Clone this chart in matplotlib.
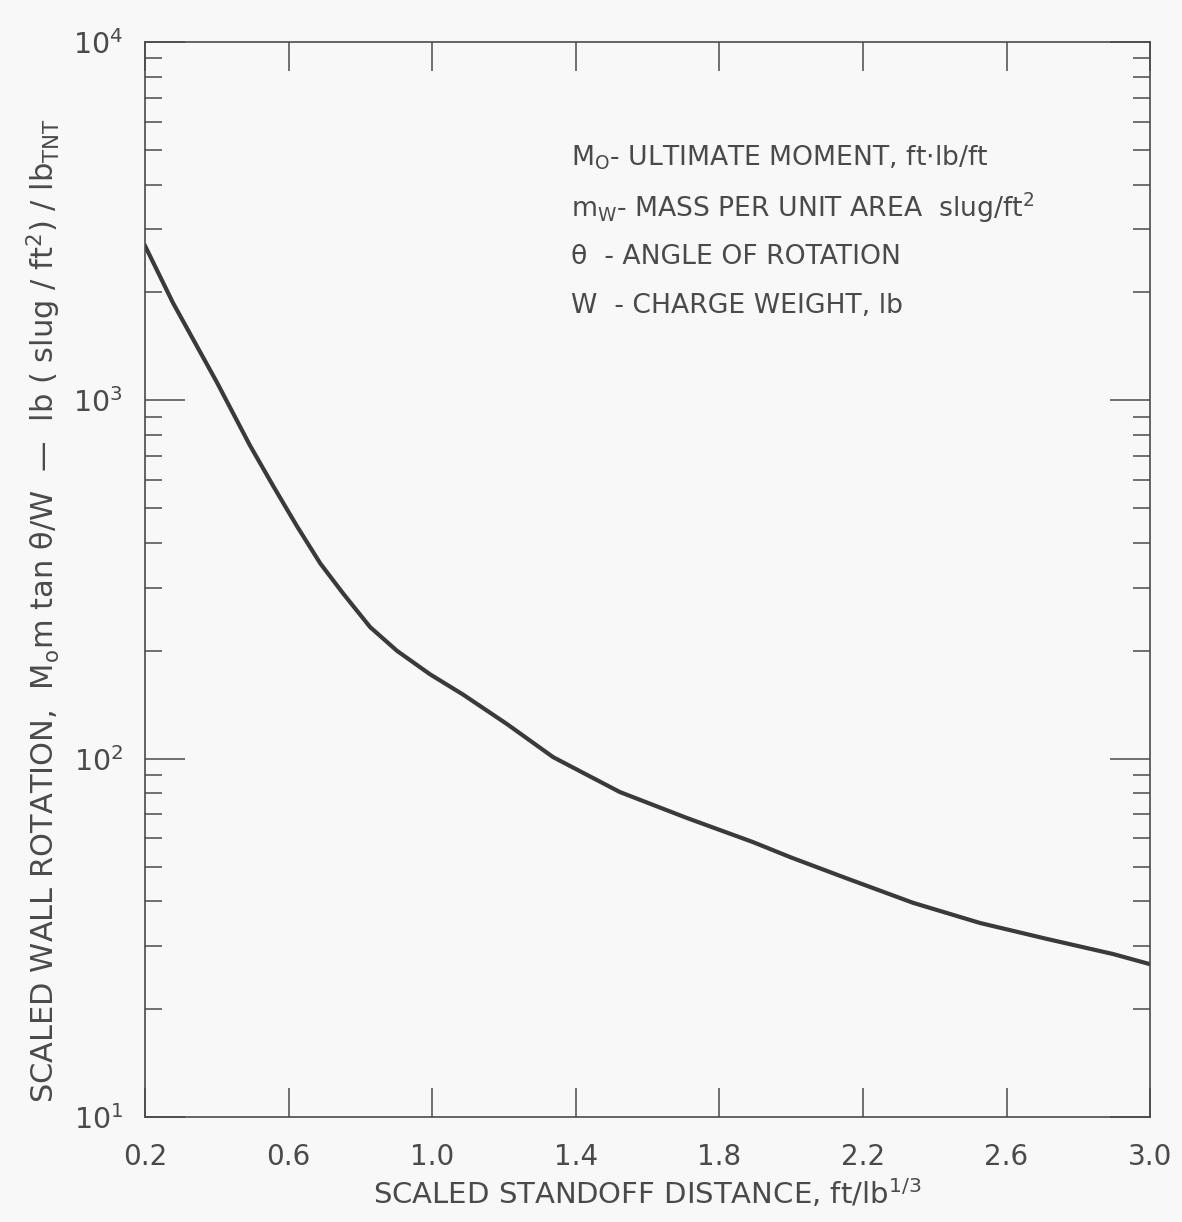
import matplotlib
matplotlib.use("Agg")
import matplotlib.pyplot as plt
from matplotlib.ticker import NullFormatter, LogLocator

# Data
standoff = [0.20, 0.278, 0.40, 0.437, 0.4925, 0.557, 0.623, 0.688, 0.752, 0.827,
            0.902, 0.994, 1.086, 1.208, 1.337, 1.523, 1.71, 1.894, 2.00, 2.156,
            2.34, 2.526, 2.713, 2.897, 3.00]
rotation = [2700, 1870, 1124, 955, 748, 577, 446, 351, 289, 233,
            200, 172, 151, 125, 101, 80.7, 68.3, 58.5, 53, 46.3,
            39.6, 34.8, 31.4, 28.5, 26.7]

xticks = [0.2, 0.6, 1.0, 1.4, 1.8, 2.2, 2.6, 3.0]
xticklabels = ["0.2", "0.6", "1.0", "1.4", "1.8", "2.2", "2.6", "3.0"]
yticks = [10, 100, 1000, 10000]
yticklabels = [r"$10^1$", r"$10^2$", r"$10^3$", r"$10^4$"]

legend_lines = [
    r"M$_\mathregular{O}$- ULTIMATE MOMENT, ft$\cdot$lb/ft",
    r"m$_\mathregular{W}$- MASS PER UNIT AREA  slug/ft$^\mathregular{2}$",
    "θ  - ANGLE OF ROTATION",
    "W  - CHARGE WEIGHT, lb",
]

ink = "#4a4a4a"
bg = "#f8f8f8"
plt.rcParams["font.family"] = ["DejaVu Sans"]
plt.rcParams["mathtext.fontset"] = "custom"
plt.rcParams["mathtext.rm"] = "DejaVu Sans"
plt.rcParams["mathtext.it"] = "DejaVu Sans"
plt.rcParams["mathtext.bf"] = "DejaVu Sans"

fig = plt.figure(figsize=(11.82, 12.22), dpi=100, facecolor=bg)
ax = fig.add_axes([0.1227, 0.0859, 0.8503, 0.8797], facecolor=bg)

ax.plot(standoff, rotation, color="#3a3a3a", lw=3.0, solid_joinstyle="round")

ax.set_yscale("log")
ax.set_xlim(0.2, 3.0)
ax.set_ylim(10, 10000)

ax.set_xticks(xticks)
ax.set_xticklabels(xticklabels)
ax.set_yticks(yticks)
ax.set_yticklabels(yticklabels)
ax.yaxis.set_minor_locator(LogLocator(base=10, subs=range(2, 10)))
ax.yaxis.set_minor_formatter(NullFormatter())

ax.tick_params(axis="x", which="major", direction="in", length=21, width=1.1,
               top=True, bottom=True, labelsize=20, labelcolor=ink, color=ink, pad=19)
ax.tick_params(axis="y", which="major", direction="in", length=29, width=1.1,
               left=True, right=True, labelsize=20.5, labelcolor=ink, color=ink, pad=16)
ax.tick_params(axis="y", which="minor", direction="in", length=12, width=1.1,
               left=True, right=True, color=ink)

for s in ax.spines.values():
    s.set_color(ink)
    s.set_linewidth(1.2)

fig.text(647 / 1182, 1 - 1204 / 1222,
         r"SCALED STANDOFF DISTANCE, ft/lb$^\mathregular{1/3}$",
         fontsize=21, color=ink, ha="center", va="baseline")
fig.text(44 / 1182, 1 - 611 / 1222,
         r"SCALED WALL ROTATION,  M$_\mathregular{o}$m tan θ/W  —  lb ( slug / ft$^\mathregular{2}$) / lb$_\mathregular{TNT}$",
         fontsize=22, color=ink, ha="center", va="center", rotation=90)

for i, line in enumerate(legend_lines):
    ax.text(0.424, 0.892 - i * 0.046, line, transform=ax.transAxes,
            fontsize=19.2, color=ink, ha="left", va="center")

fig.savefig("out.png", dpi=100, facecolor=bg)
